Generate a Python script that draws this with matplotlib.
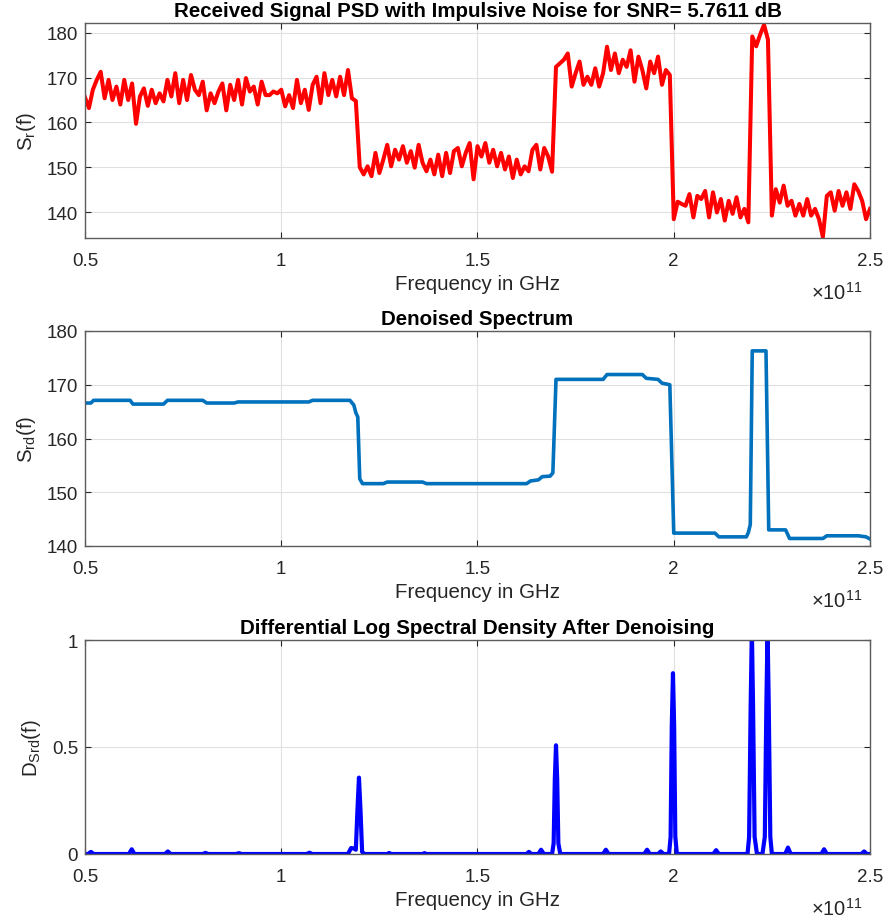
import numpy as np
import matplotlib
matplotlib.use("Agg")
import matplotlib.pyplot as plt

plt.rcParams['font.family'] = ['Liberation Sans', 'DejaVu Sans']
plt.rcParams['mathtext.fontset'] = 'custom'
plt.rcParams['mathtext.rm'] = 'Liberation Sans'
plt.rcParams['mathtext.it'] = 'Liberation Sans'

# received PSD, one value every 0.01e11 Hz from 0.5e11 to 2.5e11
rx_psd = [
    165.6, 163.2, 167.3, 169.5, 171.3, 165.4, 169.5, 165.0, 168.0, 164.0,
    169.5, 165.0, 168.7, 159.7, 165.8, 167.6, 163.7, 167.3, 164.3, 166.5,
    164.7, 169.5, 165.8, 171.0, 164.3, 169.5, 165.0, 170.6, 167.3, 166.1,
    169.1, 162.7, 166.5, 164.3, 166.9, 168.7, 162.7, 168.4, 165.0, 169.5,
    164.0, 169.9, 166.9, 168.0, 164.0, 169.1, 166.1, 166.1, 166.9, 166.5,
    167.3, 163.6, 166.1, 163.2, 169.5, 164.3, 167.3, 162.8, 168.4, 170.2,
    164.3, 171.0, 166.1, 169.5, 165.8, 170.2, 166.1, 171.7, 165.4, 164.8,
    150.0, 148.4, 150.2, 148.0, 153.2, 148.7, 151.7, 155.0, 150.2, 153.9,
    151.7, 154.7, 151.0, 153.6, 149.9, 155.0, 151.0, 149.1, 151.7, 148.4,
    152.8, 148.0, 153.2, 148.7, 153.6, 154.3, 150.2, 153.2, 155.4, 147.3,
    154.7, 152.4, 155.4, 151.0, 153.9, 150.2, 153.2, 149.5, 152.4, 147.6,
    151.7, 148.4, 150.2, 149.1, 153.9, 155.0, 149.5, 154.3, 152.4, 149.0,
    172.4, 173.2, 174.0, 175.4, 168.0, 171.0, 173.6, 168.4, 170.2, 168.4,
    172.1, 168.0, 171.0, 176.9, 171.7, 175.4, 171.0, 174.0, 172.4, 176.1,
    169.1, 174.7, 171.7, 167.6, 173.6, 171.0, 174.7, 168.4, 171.7, 170.6,
    138.4, 142.3, 141.8, 141.4, 144.0, 138.8, 143.6, 142.9, 144.7, 138.8,
    144.4, 139.9, 142.9, 138.1, 142.5, 139.6, 143.3, 138.8, 140.7, 137.7,
    179.2, 177.0, 179.6, 181.8, 178.5, 139.2, 145.1, 142.1, 145.9, 141.4,
    142.5, 139.2, 141.8, 139.2, 142.9, 139.2, 140.7, 138.4, 134.4, 143.6,
    144.4, 140.3, 144.7, 141.4, 144.4, 140.7, 146.2, 144.7, 142.5, 138.4,
    140.7,
]
rx_freq = np.linspace(0.5, 2.5, len(rx_psd))

# denoised spectrum breakpoints (freq in 1e11 Hz, level)
dn_freq = [0.50, 0.515, 0.522, 0.615, 0.622, 0.70, 0.71, 0.80, 0.81, 0.88,
           0.89, 1.07, 1.08, 1.175, 1.185, 1.19, 1.195, 1.20, 1.207, 1.26,
           1.27, 1.36, 1.37, 1.625, 1.635, 1.655, 1.665, 1.685, 1.692, 1.70,
           1.82, 1.83, 1.92, 1.93, 1.96, 1.97, 1.99, 2.00, 2.105, 2.115,
           2.185, 2.19, 2.195, 2.20, 2.235, 2.242, 2.285, 2.295, 2.38, 2.39,
           2.47, 2.49, 2.50]
dn_psd = [166.6, 166.6, 167.1, 167.1, 166.4, 166.4, 167.1, 167.1, 166.6, 166.6,
          166.8, 166.8, 167.1, 167.1, 166.2, 164.8, 164.0, 152.5, 151.6, 151.6,
          151.9, 151.9, 151.6, 151.6, 152.1, 152.3, 152.9, 153.0, 153.6, 171.0,
          171.0, 171.9, 171.9, 171.2, 171.0, 170.3, 170.0, 142.4, 142.4, 141.7,
          141.7, 142.5, 144.0, 176.3, 176.3, 143.0, 143.0, 141.4, 141.4, 141.9,
          141.9, 141.7, 141.3]

# differential log spectral density breakpoints
dl_freq = [0.500, 0.508, 0.515, 0.522, 0.612, 0.619, 0.626, 0.704, 0.711, 0.718,
           0.800, 0.807, 0.814, 0.885, 0.892, 0.899, 1.065, 1.072, 1.079,
           1.170, 1.178, 1.186, 1.190, 1.194, 1.198, 1.202, 1.206, 1.212,
           1.270, 1.275, 1.280, 1.360, 1.365, 1.370, 1.625, 1.631, 1.637,
           1.655, 1.662, 1.669, 1.690, 1.694, 1.697, 1.700, 1.703, 1.706, 1.711,
           1.820, 1.827, 1.834, 1.925, 1.932, 1.939, 1.960, 1.967, 1.974,
           1.988, 1.992, 1.995, 1.998, 2.001, 2.004, 2.008,
           2.101, 2.108, 2.115,
           2.188, 2.192, 2.196, 2.199, 2.202, 2.206, 2.212,
           2.226, 2.232, 2.236, 2.239, 2.242, 2.246, 2.250,
           2.284, 2.291, 2.298, 2.376, 2.383, 2.390, 2.478, 2.485, 2.492, 2.500]
dl_val = [0.0, 0.0, 0.01, 0.0, 0.0, 0.022, 0.0, 0.0, 0.012, 0.0,
          0.0, 0.005, 0.0, 0.0, 0.004, 0.0, 0.0, 0.006, 0.0,
          0.0, 0.028, 0.025, 0.02, 0.2, 0.357, 0.2, 0.01, 0.0,
          0.0, 0.005, 0.0, 0.0, 0.004, 0.0, 0.0, 0.01, 0.0,
          0.0, 0.02, 0.0, 0.0, 0.05, 0.35, 0.508, 0.35, 0.05, 0.0,
          0.0, 0.02, 0.0, 0.0, 0.02, 0.0, 0.0, 0.012, 0.0,
          0.0, 0.08, 0.6, 0.845, 0.6, 0.08, 0.0,
          0.0, 0.018, 0.0,
          0.0, 0.08, 0.7, 1.05, 0.7, 0.08, 0.0,
          0.0, 0.08, 0.7, 1.05, 0.7, 0.08, 0.0,
          0.0, 0.03, 0.0, 0.0, 0.022, 0.0, 0.0, 0.012, 0.0, 0.0]

xticks = [0.5, 1, 1.5, 2, 2.5]
xtick_labels = ['0.5', '1', '1.5', '2', '2.5']

fig = plt.figure(figsize=(8.87, 9.2), dpi=100)
W, H = 887, 920
TXT = '#262626'


def make_ax(top, bottom):
    ax = fig.add_axes([85 / W, 1 - bottom / H, 785 / W, (bottom - top) / H])
    ax.set_xlim(0.5, 2.5)
    ax.set_xticks(xticks)
    ax.set_xticklabels(xtick_labels)
    ax.grid(True, color='#e0e0e0', linewidth=0.8)
    ax.set_axisbelow(True)
    ax.tick_params(direction='in', top=True, right=True, length=4,
                   labelsize=13.5, colors=TXT, width=0.8)
    ax.tick_params(axis='x', pad=10)
    ax.tick_params(axis='y', pad=5)
    for s in ax.spines.values():
        s.set_color('#5c5c5c')
        s.set_linewidth(1.0)
    ax.set_xlabel('Frequency in GHz', fontsize=14.8, color=TXT, labelpad=4)
    ax.text(0.99, -0.2, r'$\times\mathregular{10^{11}}$', transform=ax.transAxes,
            ha='right', va='top', fontsize=14.5, color=TXT)
    return ax


ax1 = make_ax(24, 239)
ax1.plot(rx_freq, rx_psd, color='#ff0000', linewidth=2.9)
ax1.set_ylim(134.2, 182.2)
ax1.set_yticks([140, 150, 160, 170, 180])
ax1.set_ylabel(r'S$_{\mathrm{r}}$(f)', fontsize=14.8, color=TXT, labelpad=6)
ax1.set_title('Received Signal PSD with Impulsive Noise for SNR= 5.7611 dB',
              fontsize=14.8, fontweight='bold', pad=5)

ax2 = make_ax(332, 547)
ax2.plot(dn_freq, dn_psd, color='#0072bd', linewidth=2.6)
ax2.set_ylim(140, 180)
ax2.set_yticks([140, 150, 160, 170, 180])
ax2.set_ylabel(r'S$_{\mathrm{rd}}$(f)', fontsize=14.8, color=TXT, labelpad=6)
ax2.set_title('Denoised Spectrum', fontsize=14.8, fontweight='bold', pad=5)

ax3 = make_ax(641, 855)
ax3.plot(dl_freq, dl_val, color='#0000ff', linewidth=3.0)
ax3.set_ylim(0, 1)
ax3.set_yticks([0, 0.5, 1])
ax3.set_yticklabels(['0', '0.5', '1'])
ax3.set_ylabel(r'D$_{\mathrm{Srd}}$(f)', fontsize=14.8, color=TXT, labelpad=6)
ax3.set_title('Differential Log Spectral Density After Denoising',
              fontsize=14.8, fontweight='bold', pad=5)

fig.savefig('out.png', dpi=100)
